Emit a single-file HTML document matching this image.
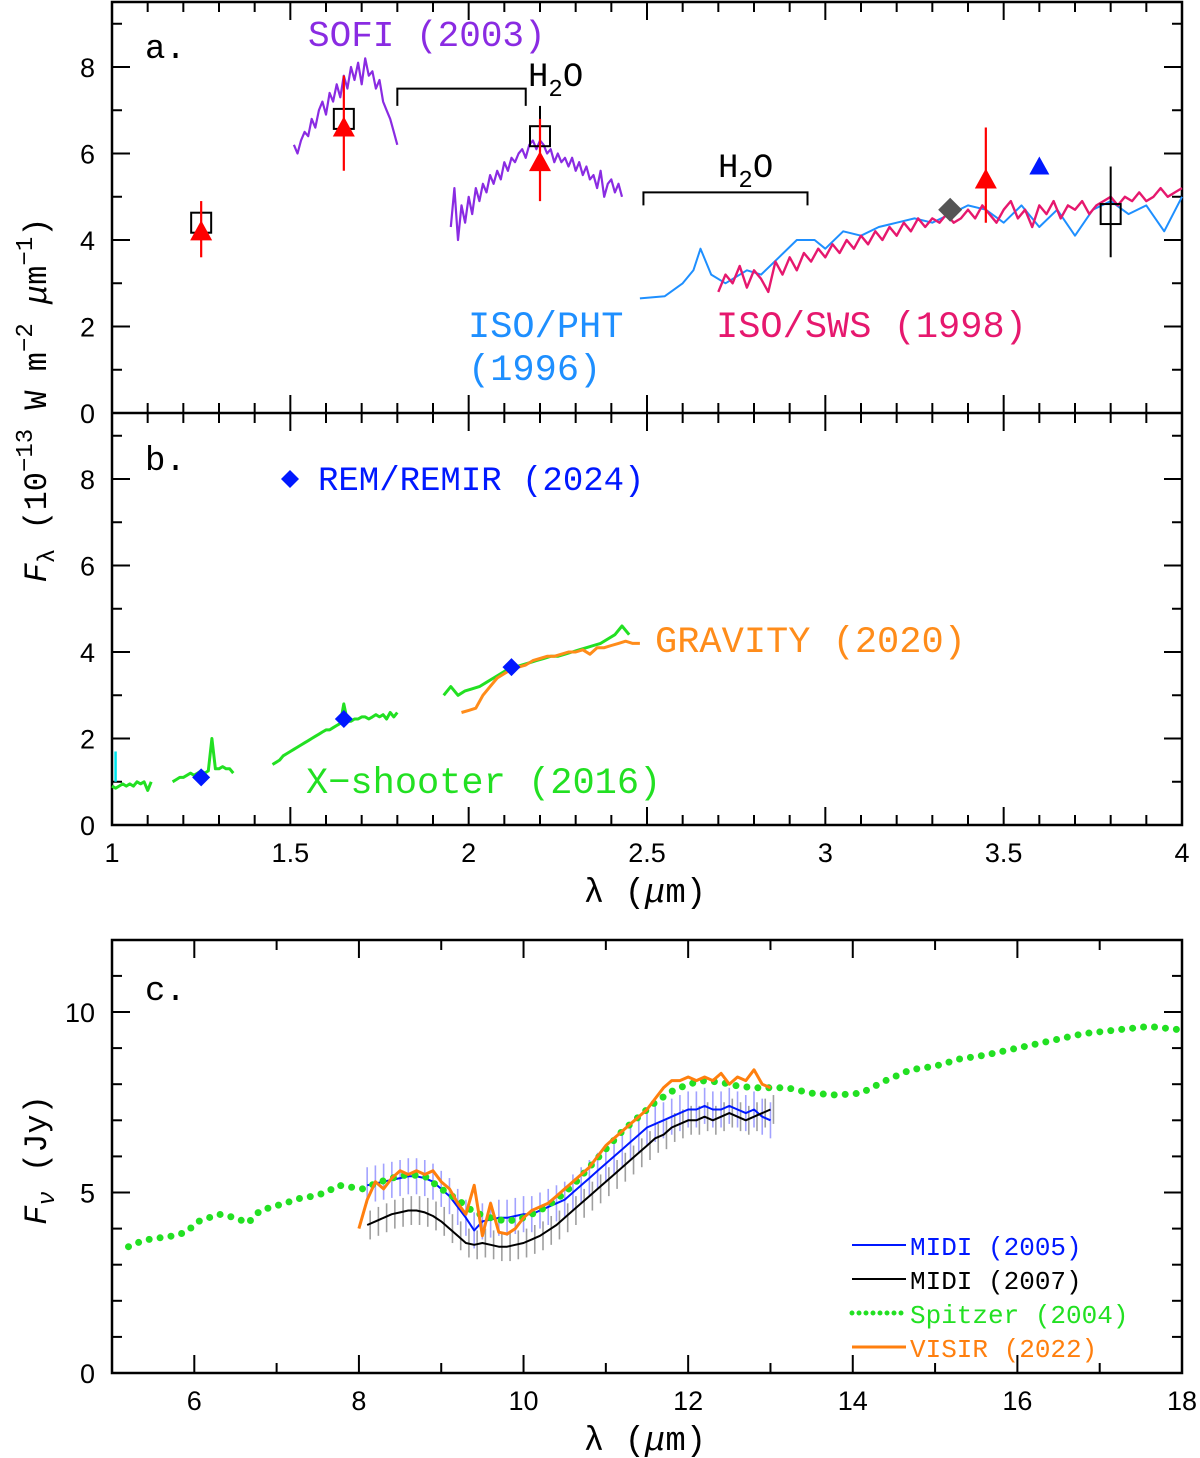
<!DOCTYPE html>
<html><head><meta charset="utf-8"><style>
body{margin:0;background:#fff}
svg{display:block}
text{font-family:"Liberation Mono",monospace}
.tk{font-family:"Liberation Sans",sans-serif;font-size:27px}
</style></head><body>
<svg id="c" width="1200" height="1458" viewBox="0 0 1200 1458" xmlns="http://www.w3.org/2000/svg"></svg>
<script>
// ---------- data ----------
const sofi1Start=1.51, sofi1Step=0.01;
const sofi1=[6.2,6.0,6.3,6.5,6.4,6.8,6.6,7.0,7.2,6.9,7.4,7.2,7.6,7.3,7.8,7.5,8.0,7.7,8.1,7.6,8.2,7.8,7.9,7.5,7.7,7.2,7.0,6.8,6.5,6.2];
const sofi2Start=1.95, sofi2Step=0.01;
const sofi2=[4.3,5.2,4.0,4.8,4.4,5.0,4.6,5.2,4.9,5.3,5.1,5.5,5.3,5.6,5.4,5.8,5.6,5.9,5.8,6.0,6.1,5.9,6.2,6.3,6.1,6.3,6.2,6.0,6.1,5.8,6.0,5.8,5.9,5.7,5.9,5.6,5.8,5.5,5.7,5.4,5.5,5.2,5.6,5.0,5.3,5.4,5.1,5.3,5.0];
const swsStart=2.70, swsStep=0.02;
const sws=[2.8,3.2,3.0,3.4,2.9,3.3,3.1,2.8,3.5,3.2,3.6,3.3,3.7,3.5,3.8,3.6,3.9,3.7,4.0,3.8,4.1,3.9,4.2,4.0,4.3,4.1,4.4,4.2,4.5,4.3,4.5,4.4,4.6,4.4,4.5,4.7,4.5,4.8,4.6,4.4,4.7,4.9,4.5,4.7,4.3,4.8,4.6,4.9,4.5,4.8,4.7,4.9,4.6,4.8,4.9,5.0,4.8,5.0,4.9,5.1,4.9,5.0,5.2,5.0,5.1,5.2];
const phtX=[2.48,2.55,2.6,2.63,2.65,2.68,2.72,2.78,2.82,2.87,2.92,2.97,3.0,3.05,3.1,3.15,3.2,3.25,3.3,3.35,3.4,3.45,3.5,3.55,3.6,3.65,3.7,3.75,3.8,3.85,3.9,3.95,4.0];
const phtY=[2.65,2.7,3.0,3.3,3.8,3.2,3.0,3.3,3.2,3.6,4.0,4.0,3.8,4.2,4.1,4.3,4.4,4.5,4.4,4.6,4.8,4.7,4.4,4.8,4.3,4.7,4.1,4.7,4.9,4.6,4.8,4.2,5.0];
const triX=[1.25,1.65,2.2,3.45], triY=[4.2,6.6,5.8,5.4], triLo=[3.6,5.6,4.9,4.4], triHi=[4.9,7.8,6.8,6.6];
const sqX=[1.25,1.65,2.2,3.8], sqY=[4.4,6.8,6.4,4.6], sqLo=[4.4,6.8,5.7,3.6], sqHi=[4.4,6.8,7.1,5.7];
const blueTriX=[3.6], blueTriY=[5.7];
const grayDiaX=[3.35], grayDiaY=[4.7];
const xsSegStart=[1.00,1.17,1.45,1.93], xsSegStep=[0.01,0.01,0.01,0.02];
const xs1=[0.9,0.85,0.9,0.95,0.9,0.95,0.9,1.0,0.95,1.0,0.8,1.0];
const xs2=[1.0,1.05,1.1,1.1,1.15,1.2,1.15,1.2,1.25,1.2,1.25,2.0,1.3,1.3,1.35,1.3,1.3,1.2];
const xs3=[1.4,1.45,1.5,1.6,1.65,1.7,1.75,1.8,1.85,1.9,1.95,2.0,2.05,2.1,2.15,2.2,2.2,2.25,2.3,2.35,2.8,2.4,2.4,2.45,2.45,2.5,2.5,2.45,2.5,2.55,2.5,2.55,2.45,2.6,2.5,2.6];
const xs4=[3.0,3.2,3.0,3.1,3.15,3.2,3.3,3.4,3.5,3.6,3.65,3.7,3.75,3.8,3.85,3.9,3.9,3.95,4.0,4.05,4.1,4.15,4.2,4.3,4.4,4.6,4.4];
const gravStart=1.98, gravStep=0.02;
const grav=[2.6,2.65,2.7,3.0,3.2,3.4,3.5,3.6,3.65,3.7,3.8,3.85,3.9,3.9,3.95,4.0,4.0,4.05,3.95,4.1,4.1,4.15,4.2,4.25,4.2,4.2];
const remX=[1.25,1.65,2.12], remY=[1.1,2.45,3.65];
const spX=[5.2,5.3,5.45,5.6,5.75,5.9,6.05,6.3,6.5,6.65,6.8,6.95,7.1,7.3,7.45,7.6,7.75,7.9,8.05,8.2,8.4,8.6,8.8,9.0,9.2,9.4,9.6,9.8,10.0,10.2,10.4,10.6,10.8,11.0,11.2,11.4,11.6,11.8,12.0,12.2,12.4,12.6,12.8,13.0,13.2,13.5,13.8,14.1,14.4,14.7,15.0,15.3,15.6,16.0,16.4,16.8,17.2,17.6,18.0];
const spY=[3.5,3.6,3.7,3.75,3.8,3.9,4.2,4.4,4.3,4.15,4.5,4.6,4.7,4.85,4.9,5.0,5.2,5.15,5.1,5.25,5.4,5.5,5.45,5.1,4.8,4.45,4.3,4.2,4.3,4.5,4.8,5.2,5.7,6.2,6.7,7.1,7.5,7.8,8.0,8.1,8.05,7.95,7.9,7.9,7.9,7.75,7.7,7.75,8.1,8.4,8.5,8.7,8.8,9.0,9.2,9.4,9.5,9.6,9.5];
const midiStart=8.1, midiStep=0.1;
const midi05=[5.2,5.25,5.3,5.35,5.4,5.45,5.45,5.4,5.3,5.1,4.9,4.6,4.3,3.95,4.2,4.25,4.3,4.3,4.35,4.4,4.4,4.5,4.6,4.7,4.8,5.0,5.2,5.4,5.6,5.8,6.0,6.2,6.4,6.6,6.8,6.9,7.0,7.1,7.2,7.3,7.3,7.4,7.3,7.3,7.4,7.3,7.2,7.3,7.1,7.0];
const midi07=[4.1,4.2,4.3,4.4,4.45,4.5,4.5,4.45,4.35,4.2,4.0,3.8,3.6,3.55,3.6,3.55,3.5,3.5,3.55,3.6,3.7,3.8,3.95,4.1,4.3,4.5,4.7,4.9,5.1,5.3,5.5,5.7,5.9,6.1,6.3,6.5,6.6,6.8,6.9,7.0,7.0,7.1,7.0,7.1,7.2,7.1,7.0,7.1,7.2,7.3];
const visirStart=8.0, visirStep=0.1;
const visir=[4.0,4.8,5.3,5.1,5.4,5.6,5.5,5.6,5.5,5.6,5.3,5.1,4.7,4.4,5.2,3.8,4.7,3.9,3.85,4.0,4.3,4.5,4.6,4.7,4.9,5.1,5.3,5.5,5.7,6.0,6.3,6.5,6.7,6.9,7.1,7.3,7.6,7.9,8.1,8.1,8.2,8.1,8.2,8.1,8.3,8.0,8.2,8.1,8.4,8.0,7.9];
const xTicksAB=[1,1.5,2,2.5,3,3.5,4], yTicksAB=[0,2,4,6,8];
const xTicksC=[6,8,10,12,14,16,18], yTicksC=[0,5,10];

// ---------- helpers ----------
const S=document.getElementById('c'), NS='http://www.w3.org/2000/svg';
function el(t,a,p){const e=document.createElementNS(NS,t);for(const k in a)e.setAttribute(k,a[k]);(p||S).appendChild(e);return e;}
const L=112,R=1182;
const xa=v=>L+(v-1)*(R-L)/3;
const ya=v=>413-v*43.25, yb=v=>825-v*43.25;
const xc=v=>L+(v-5)*(R-L)/13;
const yc=v=>1373-v*36.1;
function line(fx,fy,xsArr,ys,color,w,name){
  const p=el('polyline',{points:xsArr.map((x,i)=>fx(x).toFixed(1)+','+fy(ys[i]).toFixed(1)).join(' '),fill:'none',stroke:color,'stroke-width':w,'stroke-linejoin':'round'});
  
  
  return p;
}
const rng=(s,st,n)=>Array.from({length:n},(_,i)=>s+i*st);
function txt(x,y,s,opt,name){const t=el('text',Object.assign({x:x,y:y},opt||{}));t.innerHTML=s;
  
  return t;}

// ---------- frames ----------
const fr=el('rect',{x:L,y:2,width:R-L,height:823,fill:'none',stroke:'#000','stroke-width':2.5});


el('line',{x1:L,y1:413,x2:R,y2:413,stroke:'#000','stroke-width':2.5});
const fc=el('rect',{x:L,y:940,width:R-L,height:433,fill:'none',stroke:'#000','stroke-width':2.5});


for(let v=1;v<=4.0001;v+=0.1){const x=xa(v),maj=Math.abs(v*2-Math.round(v*2))<1e-6,l=maj?18:10;
  el('line',{x1:x,y1:2,x2:x,y2:2+l,stroke:'#000','stroke-width':2});
  el('line',{x1:x,y1:413-l,x2:x,y2:413+l,stroke:'#000','stroke-width':2});
  el('line',{x1:x,y1:825,x2:x,y2:825-l,stroke:'#000','stroke-width':2});}
for(let v=0;v<=9;v++){const l=v%2?10:18;
  [ya,yb].forEach(f=>{el('line',{x1:L,y1:f(v),x2:L+l,y2:f(v),stroke:'#000','stroke-width':2});el('line',{x1:R,y1:f(v),x2:R-l,y2:f(v),stroke:'#000','stroke-width':2});});}
xTicksAB.forEach(v=>txt(xa(v),862,String(v),{class:'tk','text-anchor':'middle'},'x-tick-label'));
yTicksAB.forEach(v=>{txt(95,ya(v)+10,String(v),{class:'tk','text-anchor':'end'},'y-tick-label-a');txt(95,yb(v)+10,String(v),{class:'tk','text-anchor':'end'},'y-tick-label-b');});
for(let v=5;v<=18;v++){const l=v%2?10:18;
  el('line',{x1:xc(v),y1:1373,x2:xc(v),y2:1373-l,stroke:'#000','stroke-width':2});
  el('line',{x1:xc(v),y1:940,x2:xc(v),y2:940+l,stroke:'#000','stroke-width':2});}
for(let v=0;v<=11;v++){const l=v%5?10:18;
  el('line',{x1:L,y1:yc(v),x2:L+l,y2:yc(v),stroke:'#000','stroke-width':2});
  el('line',{x1:R,y1:yc(v),x2:R-l,y2:yc(v),stroke:'#000','stroke-width':2});}
xTicksC.forEach(v=>txt(xc(v),1410,String(v),{class:'tk','text-anchor':'middle'},'x-tick-label-c'));
yTicksC.forEach(v=>txt(95,yc(v)+10,String(v),{class:'tk','text-anchor':'end'},'y-tick-label-c'));
txt(645,902,'λ (<tspan font-style="italic">μ</tspan>m)',{'font-size':34,'text-anchor':'middle'},'x-axis-title-ab');
txt(645,1450,'λ (<tspan font-style="italic">μ</tspan>m)',{'font-size':34,'text-anchor':'middle'},'x-axis-title-c');
txt(0,0,'<tspan font-style="italic">F</tspan><tspan font-size="24" dy="8">λ</tspan><tspan dy="-8"> (10</tspan><tspan font-size="24" dy="-14">−13</tspan><tspan dy="14"> W m</tspan><tspan font-size="24" dy="-14">−2</tspan><tspan dy="14"> </tspan><tspan font-style="italic">μ</tspan>m<tspan font-size="24" dy="-14">−1</tspan><tspan dy="14">)</tspan>',{'font-size':32,'text-anchor':'middle',transform:'translate(46,400) rotate(-90)'},'y-axis-title-ab');
txt(0,0,'<tspan font-style="italic">F</tspan><tspan font-size="24" dy="8" font-style="italic">ν</tspan><tspan dy="-8"> (Jy)</tspan>',{'font-size':32,'text-anchor':'middle',transform:'translate(46,1160) rotate(-90)'},'y-axis-title-c');
txt(145,58,'a.',{'font-size':34},'panel-a-label');
txt(145,470,'b.',{'font-size':34},'panel-b-label');
txt(145,1000,'c.',{'font-size':34},'panel-c-label');

// ---------- panel a ----------
line(xa,ya,rng(sofi1Start,sofi1Step,sofi1.length),sofi1,'#8a2be2',2.2,'sofi-spectrum-h');
line(xa,ya,rng(sofi2Start,sofi2Step,sofi2.length),sofi2,'#8a2be2',2.2,'sofi-spectrum-k');
line(xa,ya,phtX,phtY,'#1e8fff',2,'iso-pht-spectrum');
line(xa,ya,rng(swsStart,swsStep,sws.length),sws,'#e6186e',2.4,'iso-sws-spectrum');
el('polyline',{points:`${xa(1.8)},${ya(7.1)} ${xa(1.8)},${ya(7.5)} ${xa(2.16)},${ya(7.5)} ${xa(2.16)},${ya(7.1)}`,fill:'none',stroke:'#000','stroke-width':2});
el('polyline',{points:`${xa(2.49)},${ya(4.8)} ${xa(2.49)},${ya(5.1)} ${xa(2.95)},${ya(5.1)} ${xa(2.95)},${ya(4.8)}`,fill:'none',stroke:'#000','stroke-width':2});
txt(528,86,'H<tspan font-size="24" dy="10">2</tspan><tspan dy="-10">O</tspan>',{'font-size':34},'h2o-label-1');
txt(718,177,'H<tspan font-size="24" dy="10">2</tspan><tspan dy="-10">O</tspan>',{'font-size':34},'h2o-label-2');
sqX.forEach((x,i)=>{
  if(sqHi[i]!==sqLo[i]) el('line',{x1:xa(x),y1:ya(sqLo[i]),x2:xa(x),y2:ya(sqHi[i]),stroke:'#000','stroke-width':2});
  const r=el('rect',{x:xa(x)-10,y:ya(sqY[i])-10,width:20,height:20,fill:'none',stroke:'#000','stroke-width':2});
  
  });
triX.forEach((x,i)=>{
  el('line',{x1:xa(x),y1:ya(triLo[i]),x2:xa(x),y2:ya(triHi[i]),stroke:'#f00','stroke-width':2.2});
  const X=xa(x),Y=ya(triY[i]);
  const t=el('polygon',{points:`${X-11},${Y+9} ${X+11},${Y+9} ${X},${Y-11}`,fill:'#f00'});
  
  });
blueTriX.forEach((x,i)=>{const X=xa(x),Y=ya(blueTriY[i]);
  const t=el('polygon',{points:`${X-10},${Y+8} ${X+10},${Y+8} ${X},${Y-10}`,fill:'#0018ff'});
  
  });
grayDiaX.forEach((x,i)=>{const X=xa(x),Y=ya(grayDiaY[i]);
  const t=el('polygon',{points:`${X-12},${Y} ${X},${Y-12} ${X+12},${Y} ${X},${Y+12}`,fill:'#555'});
  
  });
txt(308,46,'SOFI (2003)',{'font-size':36,fill:'#8a2be2'},'sofi-label');
txt(468,337,'ISO/PHT',{'font-size':37,fill:'#1e8fff'},'iso-pht-label');
txt(468,380,'(1996)',{'font-size':37,fill:'#1e8fff'},'iso-pht-year');
txt(716,337,'ISO/SWS (1998)',{'font-size':37,fill:'#e6186e'},'iso-sws-label');

// ---------- panel b ----------
[xs1,xs2,xs3,xs4].forEach((arr,k)=>line(xa,yb,rng(xsSegStart[k],xsSegStep[k],arr.length),arr,'#22e022',3,'xshooter-segment'));
el('line',{x1:xa(1.01),y1:yb(1.7),x2:xa(1.01),y2:yb(1.0),stroke:'#00e5ee','stroke-width':2.5});
line(xa,yb,rng(gravStart,gravStep,grav.length),grav,'#ff8c1a',3,'gravity-spectrum');
remX.forEach((x,i)=>{const X=xa(x),Y=yb(remY[i]);
  const t=el('polygon',{points:`${X-9},${Y} ${X},${Y-9} ${X+9},${Y} ${X},${Y+9}`,fill:'#0018ff'});
  
  });
{const X=290,Y=479;el('polygon',{points:`${X-9},${Y} ${X},${Y-9} ${X+9},${Y} ${X},${Y+9}`,fill:'#0018ff'});}
txt(318,490,'REM/REMIR (2024)',{'font-size':34,fill:'#0018ff'},'rem-label');
txt(655,652,'GRAVITY (2020)',{'font-size':37,fill:'#ff8c1a'},'gravity-label');
txt(306,793,'X−shooter (2016)',{'font-size':37,fill:'#22e022'},'xshooter-label');

// ---------- panel c ----------
const mx=rng(midiStart,midiStep,midi05.length);
mx.forEach((x,i)=>{el('line',{x1:xc(x),y1:yc(midi05[i]-0.5),x2:xc(x),y2:yc(midi05[i]+0.5),stroke:'#8c8cff','stroke-width':1.6,opacity:0.8});});
mx.forEach((x,i)=>{el('line',{x1:xc(x)+3,y1:yc(midi07[i]-0.4),x2:xc(x)+3,y2:yc(midi07[i]+0.4),stroke:'#888','stroke-width':1.6,opacity:0.8});});
line(xc,yc,mx,midi05,'#0018ff',2,'midi-2005-line');
line(xc,yc,mx,midi07,'#000',2,'midi-2007-line');
const sp=line(xc,yc,spX,spY,'#22e022',7,'spitzer-line');
sp.setAttribute('stroke-dasharray','0 11');sp.setAttribute('stroke-linecap','round');
line(xc,yc,rng(visirStart,visirStep,visir.length),visir,'#ff7f0e',3,'visir-line');
const lg=[['MIDI (2005)','#0018ff',''],['MIDI (2007)','#000',''],['Spitzer (2004)','#22e022','dot'],['VISIR (2022)','#ff7f0e','']];
lg.forEach((d,i)=>{const y=1245+i*34;
  const l=el('line',{x1:852,y1:y,x2:906,y2:y,stroke:d[1],'stroke-width':d[2]?5:(i==3?3:2)});
  if(d[2]){l.setAttribute('stroke-dasharray','0 7');l.setAttribute('stroke-linecap','round');}
  
  
  txt(910,y+10,d[0],{'font-size':26,fill:d[1]},'legend-entry');});
</script>
</body></html>
